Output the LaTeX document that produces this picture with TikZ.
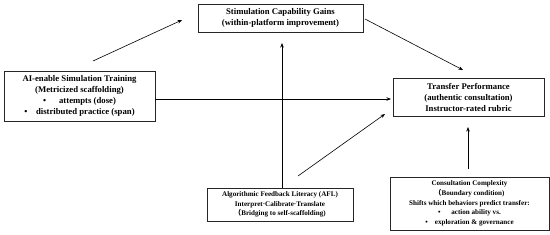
\documentclass[tikz,border=0pt]{standalone}
\usepackage{fontspec}
\setmainfont{Liberation Serif}
\newfontfamily\cjkf{Noto Sans CJK SC}
\usetikzlibrary{arrows.meta}
\tikzset{
  box/.style={draw=black!85, line width=0.9pt, inner sep=0pt, align=center, font=\bfseries},
  bigtxt/.style={font=\fontsize{8.7}{11}\selectfont\bfseries},
  smalltxt/.style={font=\fontsize{7.1}{9.7}\selectfont\bfseries},
  conn/.style={line width=0.6pt, -{Stealth[length=4.5pt,width=3.5pt]}}
}
\begin{document}
\begin{tikzpicture}[x=1pt,y=-1pt]
\useasboundingbox (0,0) rectangle (550,235);
\node[box,bigtxt,minimum width=151pt,minimum height=50pt] (ai) at (79.5,96)
  {AI-enable Simulation Training\\(Metricized scaffolding)\\\textbullet\quad\enspace attempts (dose)\\\textbullet\quad distributed practice (span)};
\node[box,bigtxt,minimum width=165pt,minimum height=28pt] (scg) at (280.5,18)
  {Stimulation Capability Gains\\(within-platform improvement)};
\node[box,bigtxt,minimum width=151pt,minimum height=38pt] (tp) at (468.5,97)
  {Transfer Performance\\(authentic consultation)\\Instructor-rated rubric};
\node[box,smalltxt,minimum width=146pt,minimum height=33pt] (afl) at (280,204.5)
  {Algorithmic Feedback Literacy (AFL)\\Interpret·Calibrate·Translate\\{\cjkf （}Bridging to self-scaffolding)};
\node[box,smalltxt,minimum width=159pt,minimum height=53pt] (cc) at (469.5,203.5)
  {Consultation Complexity\\{\cjkf （}Boundary condition)\\Shifts which behaviors predict transfer:\\\textbullet\quad\enspace action ability vs.\\\textbullet\quad exploration \& governance};
% connector ends
\coordinate (a1s) at (93,61);   \coordinate (a1e) at (182,20);
\coordinate (a2s) at (365,19);  \coordinate (a2e) at (463,70);
\coordinate (a3s) at (ai.east |- 0,99);  \coordinate (a3e) at (391,99);
\coordinate (a4s) at (282,188); \coordinate (a4e) at (282,43);
\coordinate (a5s) at (298,176); \coordinate (a5e) at (385,114);
\coordinate (a6s) at (468,169); \coordinate (a6e) at (468,127);
\draw[conn] (a1s) -- (a1e);
\draw[conn] (a2s) -- (a2e);
\draw[conn] (a3s) -- (a3e);
\draw[conn] (a4s) -- (a4e);
\draw[conn] (a5s) -- (a5e);
\draw[conn] (a6s) -- (a6e);
\end{tikzpicture}
\end{document}
